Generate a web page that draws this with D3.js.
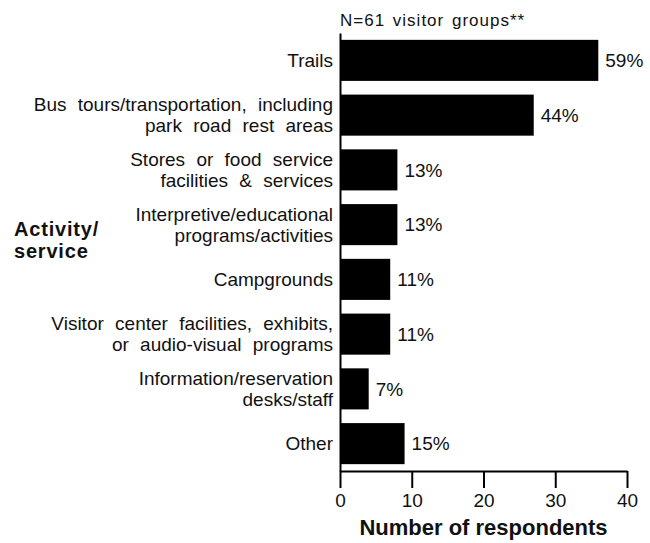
<!DOCTYPE html>
<html>
<head>
<meta charset="utf-8">
<script src="https://cdn.jsdelivr.net/npm/d3@7"></script>
<style>
  html, body { margin: 0; padding: 0; background: #fff; }
  svg { display: block; font-family: "Liberation Sans", Arial, Helvetica, sans-serif; }
</style>
</head>
<body>
<svg id="chart" width="650" height="543"></svg>
<script>
// ---- data ----
const categories = [
  ["Trails"],
  ["Bus tours/transportation, including", "park road rest areas"],
  ["Stores or food service", "facilities & services"],
  ["Interpretive/educational", "programs/activities"],
  ["Campgrounds"],
  ["Visitor center facilities, exhibits,", "or audio-visual programs"],
  ["Information/reservation", "desks/staff"],
  ["Other"]
];
const counts = [36, 27, 8, 8, 7, 7, 4, 9];
const percentLabels = ["59%", "44%", "13%", "13%", "11%", "11%", "7%", "15%"];
const xTicks = [0, 10, 20, 30, 40];
const noteText = "N=61 visitor groups**";
const xTitle = "Number of respondents";
const yTitle = ["Activity/", "service"];

// ---- layout ----
const svg = d3.select("#chart");
const x0 = 340, x1 = 627, yTop = 33, yBot = 471;

const x = d3.scaleLinear().domain([0, 40]).range([x0, x1]);
const y = d3.scaleBand().domain(d3.range(categories.length))
  .range([yTop, yBot]).paddingInner(0.25).paddingOuter(0.125);

// bars
svg.append("g").selectAll("rect").data(counts).join("rect")
  .attr("x", x(0))
  .attr("y", (d, i) => y(i))
  .attr("width", d => x(d) - x(0))
  .attr("height", y.bandwidth())
  .attr("fill", "#000");

// value labels
svg.append("g").selectAll("text").data(counts).join("text")
  .attr("x", d => x(d) + 7)
  .attr("y", (d, i) => y(i) + y.bandwidth() / 2)
  .attr("dy", "0.35em")
  .attr("font-size", 19)
  .attr("fill", "#111")
  .text((d, i) => percentLabels[i]);

// category labels
const catG = svg.append("g");
categories.forEach((lines, i) => {
  const cy = y(i) + y.bandwidth() / 2;
  const lh = 21;
  const t = catG.append("text")
    .attr("text-anchor", "end")
    .attr("font-size", 19)
    .attr("word-spacing", "6px")
    .attr("fill", "#111");
  lines.forEach((ln, j) => {
    t.append("tspan")
      .attr("x", x0 - 7)
      .attr("y", cy + (j - (lines.length - 1) / 2) * lh)
      .attr("dy", "0.35em")
      .text(ln);
  });
});

// x axis
const xAxis = d3.axisBottom(x).tickValues(xTicks).tickSize(17).tickPadding(6).tickSizeOuter(0);
const gx = svg.append("g").attr("transform", `translate(0,${yBot})`).call(xAxis);
gx.select(".domain").attr("stroke", "#000").attr("stroke-width", 2);
gx.selectAll(".tick line").attr("stroke", "#000").attr("stroke-width", 2);
gx.selectAll(".tick text").attr("font-size", 19).attr("fill", "#111")
  .attr("font-family", "Liberation Sans, Arial, sans-serif");

// y axis line
const yAxis = d3.axisLeft(y).tickValues([]).tickSizeOuter(0);
const gy = svg.append("g").attr("transform", `translate(${x0},0)`).call(yAxis);
gy.select(".domain").attr("stroke", "#000").attr("stroke-width", 2);

// note
svg.append("text")
  .attr("x", x0)
  .attr("y", 26)
  .attr("font-size", 17)
  .attr("letter-spacing", "1px")
  .attr("word-spacing", "2px")
  .attr("fill", "#111")
  .text(noteText);

// x title
svg.append("text")
  .attr("x", (x0 + x1) / 2)
  .attr("y", 535)
  .attr("text-anchor", "middle")
  .attr("font-size", 22)
  .attr("font-weight", "bold")
  .attr("fill", "#111")
  .text(xTitle);

// y title
yTitle.forEach((ln, j) => {
  svg.append("text")
    .attr("x", 14)
    .attr("y", 236 + j * 22)
    .attr("font-size", 20)
    .attr("font-weight", "bold")
    .attr("letter-spacing", "0.8px")
    .attr("fill", "#111")
    .text(ln);
});
</script>
</body>
</html>
